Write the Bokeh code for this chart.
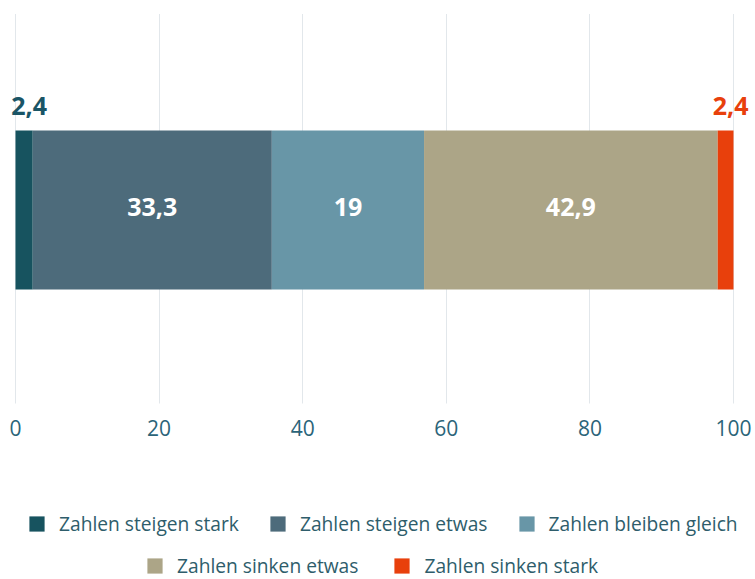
from bokeh.plotting import figure
from bokeh.layouts import column
from bokeh.models import Range1d, Legend, LegendItem, FixedTicker, ColumnDataSource
from bokeh.core.properties import value
from bokeh.embed import file_html
from bokeh.resources import INLINE

# ---- data ----
categories = ["Zahlen steigen stark", "Zahlen steigen etwas", "Zahlen bleiben gleich",
              "Zahlen sinken etwas", "Zahlen sinken stark"]
bar_widths = [2.4, 33.3, 21.2, 40.9, 2.2]          # widths as drawn in the picture
value_labels = ["2,4", "33,3", "19", "42,9", "2,4"]  # printed labels
colors = ["#17535f", "#4d6b7b", "#6896a7", "#aca587", "#e8400c"]
label_colors = ["#1a5566", "#ffffff", "#ffffff", "#ffffff", "#e8400c"]
outside = [True, False, False, False, True]
x_ticks = [0, 20, 40, 60, 80, 100]

FONT = "Open Sans"
W = 755
FRAME_L, FRAME_R = 15, 733      # pixel positions of 0 and 100
px_per_unit = (FRAME_R - FRAME_L) / 100.0

chart = figure(width=W, height=455, output_backend="svg", toolbar_location=None,
               x_range=Range1d(-FRAME_L / px_per_unit, 100 + (W - FRAME_R) / px_per_unit),
               y_range=Range1d(0, 390),
               min_border_left=0, min_border_right=0, min_border_top=13, min_border_bottom=52)
chart.outline_line_color = None
chart.background_fill_color = "white"
chart.border_fill_color = "white"

chart.yaxis.visible = False
chart.xaxis.ticker = FixedTicker(ticks=x_ticks)
chart.xaxis.axis_line_color = None
chart.xaxis.major_tick_line_color = None
chart.xaxis.major_tick_out = 0
chart.xaxis.major_tick_in = 0
chart.xaxis.minor_tick_line_color = None
chart.xaxis.major_label_text_font = FONT
chart.xaxis.major_label_text_font_size = "21px"
chart.xaxis.major_label_text_color = "#2b6479"
chart.xaxis.major_label_standoff = 16

chart.ygrid.visible = False
chart.xgrid.grid_line_color = "#c5ced6"
chart.xgrid.grid_line_dash = "1 1"
chart.xgrid.grid_line_width = 1

bar_y = 193.5
bar_h = 159

lefts, rights = [], []
acc = 0
for w in bar_widths:
    lefts.append(acc)
    acc += w
    rights.append(acc)

for i, cat in enumerate(categories):
    chart.hbar(y=[bar_y], left=[lefts[i]], right=[rights[i]], height=bar_h,
               fill_color=colors[i], line_color=None)

inside_idx = [i for i in range(len(categories)) if not outside[i]]
src_in = ColumnDataSource(dict(
    x=[(lefts[i] + rights[i]) / 2 for i in inside_idx],
    y=[bar_y] * len(inside_idx),
    t=[value_labels[i] for i in inside_idx],
    c=[label_colors[i] for i in inside_idx]))
chart.text(x="x", y="y", text="t", text_color="c", source=src_in,
           text_font=value(FONT), text_font_style="bold", text_font_size="25px",
           text_align="center", text_baseline="middle", y_offset=-3)

out_idx = [i for i in range(len(categories)) if outside[i]]
src_out = ColumnDataSource(dict(
    x=[(lefts[i] + rights[i]) / 2 for i in out_idx],
    y=[bar_y + bar_h / 2] * len(out_idx),
    t=[value_labels[i] for i in out_idx],
    c=[label_colors[i] for i in out_idx]))
chart.text(x="x", y="y", text="t", text_color="c", source=src_out,
           text_font=value(FONT), text_font_style="bold", text_font_size="25px",
           text_align="center", text_baseline="middle", x_offset=5, y_offset=-25)

# ---- legend panel ----
leg = figure(width=W, height=124, output_backend="svg", toolbar_location=None,
             x_range=Range1d(0, 1), y_range=Range1d(0, 1),
             min_border_left=0, min_border_right=0, min_border_top=0, min_border_bottom=0)
leg.axis.visible = False
leg.grid.visible = False
leg.outline_line_color = None
leg.border_fill_color = "white"
leg.background_fill_color = "white"

# legend proxies (hidden renderers, only their legend swatches are shown)
leg_renderers = []
for i, cat in enumerate(categories):
    r = leg.hbar(y=[0.5], left=[0], right=[1], height=1, fill_color=colors[i],
                 line_color=None, visible=False)
    leg_renderers.append(r)

def make_legend(idx, loc, spacing):
    items = [LegendItem(label=categories[i], renderers=[leg_renderers[i]]) for i in idx]
    return Legend(items=items, location=loc, orientation="horizontal",
                  glyph_width=19, glyph_height=19, label_standoff=13, spacing=spacing,
                  padding=0, margin=0, border_line_color=None,
                  background_fill_alpha=0, inactive_fill_alpha=0,
                  label_text_font=FONT,
                  label_text_font_size="19.2px", label_text_color="#2e5d6b",
                  label_height=19, label_text_baseline="middle")

leg.add_layout(make_legend([0, 1, 2], (27, 42), 29), "center")
leg.add_layout(make_legend([3, 4], (145, 0), 34), "center")

p = column(chart, leg, spacing=0)

open("out.html", "w").write(file_html(p, INLINE))
